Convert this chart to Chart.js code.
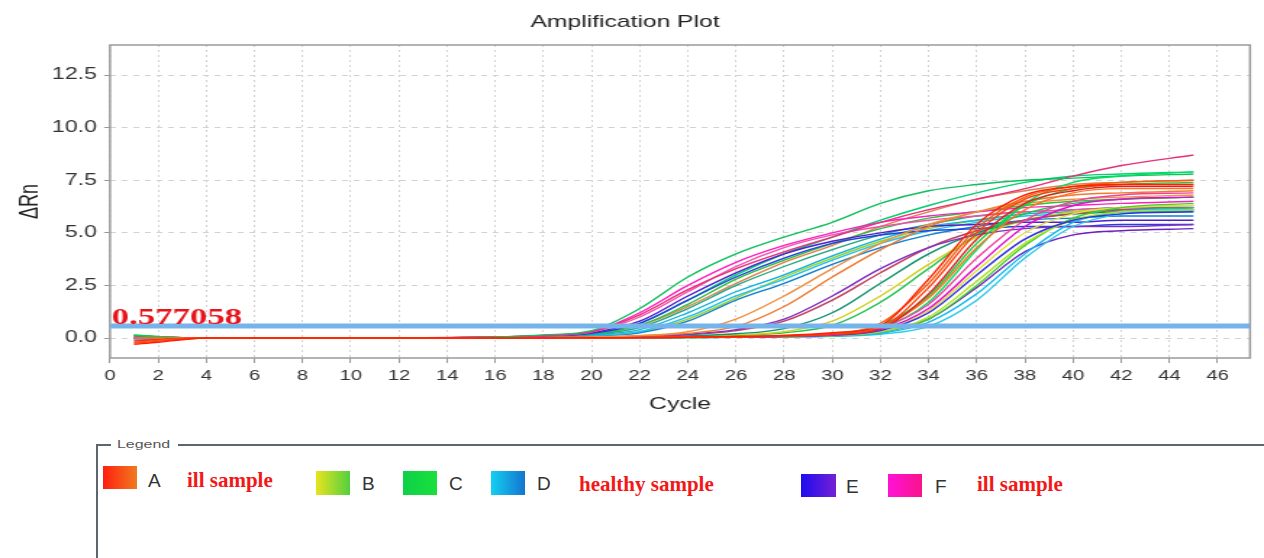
<!DOCTYPE html>
<html>
<head>
<meta charset="utf-8">
<script src="https://cdn.jsdelivr.net/npm/chart.js@4.4.0/dist/chart.umd.min.js"></script>
<style>
  html, body { margin: 0; padding: 0; background: #fff; }
  #wrap { position: relative; width: 1264px; height: 558px; overflow: hidden; font-family: "Liberation Sans", Arial, sans-serif; }
  #plot { position: absolute; left: 0; top: 0; }
  .rule { position: absolute; background: #5d666e; }
  .legend-title { position: absolute; left: 117px; top: 437px; font-size: 11px; line-height: 14px; color: #555; transform: scaleX(1.45); transform-origin: left center; }
  .sw { position: absolute; width: 34px; height: 23px; }
  .key { position: absolute; font-size: 19px; line-height: 1; color: #333; }
  .note { position: absolute; font-family: "Liberation Serif", "Times New Roman", serif; font-weight: bold; font-size: 21px; line-height: 1; color: #f21818; }
</style>
</head>
<body>
<div id="wrap">
  <canvas id="plot" width="872" height="430" style="width:1264px; height:430px;"></canvas>

  <!-- legend frame -->
  <div class="rule" style="left:96px; top:444px; width:15px; height:2px;"></div>
  <div class="rule" style="left:178px; top:444px; width:1090px; height:2px;"></div>
  <div class="rule" style="left:96px; top:444px; width:2px; height:120px;"></div>
  <div class="legend-title">Legend</div>

  <div class="sw" style="left:103px; top:466px; background:linear-gradient(90deg,#ff1e10,#f07a1e);"></div>
  <div class="key" style="left:148px; top:471px;">A</div>
  <div class="note" style="left:187px; top:470px;">ill sample</div>

  <div class="sw" style="left:316px; top:471px; height:24px; background:linear-gradient(90deg,#e8e41e,#52d040);"></div>
  <div class="key" style="left:362px; top:474px;">B</div>
  <div class="sw" style="left:403px; top:471px; height:24px; background:linear-gradient(90deg,#10d048,#18e03c);"></div>
  <div class="key" style="left:449px; top:474px;">C</div>
  <div class="sw" style="left:491px; top:471px; height:24px; background:linear-gradient(90deg,#14d0f0,#1474d0);"></div>
  <div class="key" style="left:537px; top:474px;">D</div>
  <div class="note" style="left:579px; top:474px;">healthy sample</div>

  <div class="sw" style="left:801px; top:474px; width:35px; background:linear-gradient(90deg,#1e0cf0,#7420d4);"></div>
  <div class="key" style="left:846px; top:477px;">E</div>
  <div class="sw" style="left:888px; top:474px; background:linear-gradient(90deg,#ff12d8,#f8148a);"></div>
  <div class="key" style="left:935px; top:477px;">F</div>
  <div class="note" style="left:977px; top:474px;">ill sample</div>
</div>

<script>
// the reference picture is stretched sideways, so the canvas is drawn narrow and widened by CSS
const stretch = 1264 / 872;

const cycles = [1, 2, 3, 4, 10, 16, 18, 20, 22, 24, 26, 28, 30, 32, 34, 36, 38, 40, 42, 45];
const threshold = 0.577058;

// late wells (Ct ~31-34)
const lateCurves = [
  [-0.3, -0.2, -0.08, 0, 0, 0, 0, 0.01, 0.02, 0.04, 0.07, 0.12, 0.25, 0.6, 2.8, 5.4, 6.8, 7.2, 7.3, 7.3],
  [-0.25, -0.15, -0.05, 0, 0, 0, 0, 0.01, 0.02, 0.04, 0.06, 0.1, 0.2, 0.5, 2.4, 5.0, 6.6, 7.1, 7.3, 7.3],
  [-0.2, -0.1, -0.03, 0, 0, 0, 0, 0.01, 0.02, 0.04, 0.07, 0.12, 0.22, 0.7, 2.6, 5.2, 6.7, 7.2, 7.4, 7.5],
  [-0.15, -0.08, -0.02, 0, 0, 0, 0, 0.01, 0.02, 0.03, 0.05, 0.09, 0.18, 0.45, 2.1, 4.7, 6.4, 7.0, 7.2, 7.2],
  [0, 0, 0, 0, 0, 0, 0, 0.01, 0.02, 0.03, 0.06, 0.1, 0.2, 0.55, 1.9, 4.3, 6.1, 6.9, 7.1, 7.1],
  [0, 0, 0, 0, 0, 0, 0, 0.01, 0.02, 0.03, 0.05, 0.08, 0.17, 0.5, 1.6, 3.8, 5.6, 6.5, 6.8, 6.9],
  [0.12, 0.06, 0.02, 0, 0, 0, 0, 0.01, 0.02, 0.03, 0.05, 0.1, 0.2, 0.6, 2.0, 4.5, 6.3, 7.1, 7.3, 7.4],
  [0, 0, 0, 0, 0, 0, 0, 0.01, 0.02, 0.03, 0.05, 0.08, 0.15, 0.4, 1.4, 3.4, 5.3, 6.3, 6.6, 6.7],
  [0, 0, 0, 0, 0, 0, 0, 0.01, 0.02, 0.03, 0.04, 0.07, 0.13, 0.35, 1.2, 3.0, 4.7, 5.6, 5.9, 6.0],
  [0, 0, 0, 0, 0, 0, 0, 0.01, 0.01, 0.02, 0.04, 0.06, 0.12, 0.3, 1.0, 2.7, 4.5, 5.6, 6.0, 6.1],
  [0, 0, 0, 0, 0, 0, 0, 0.01, 0.01, 0.02, 0.04, 0.06, 0.1, 0.28, 0.9, 2.5, 4.4, 5.7, 6.2, 6.4],
  [0, 0, 0, 0, 0, 0, 0, 0.01, 0.01, 0.02, 0.03, 0.05, 0.09, 0.22, 0.75, 2.1, 4.0, 5.5, 6.0, 6.2],
  [-0.05, -0.02, 0, 0, 0, 0, 0, 0, 0.01, 0.02, 0.03, 0.05, 0.08, 0.18, 0.55, 1.8, 3.8, 5.3, 5.9, 6.1],
  [0, 0, 0, 0, 0, 0, 0, 0.01, 0.01, 0.02, 0.04, 0.06, 0.1, 0.28, 0.9, 2.4, 4.1, 4.9, 5.1, 5.2],
  [0, 0, 0, 0, 0, 0, 0, 0.01, 0.02, 0.03, 0.05, 0.08, 0.15, 0.45, 1.7, 4.2, 6.4, 7.4, 7.7, 7.9],
  [0, 0, 0, 0, 0, 0, 0, 0.01, 0.02, 0.03, 0.05, 0.08, 0.15, 0.4, 1.3, 3.2, 5.0, 5.9, 6.2, 6.3]
];
const lateColors = ['#ff2000', '#ff4010', '#f06010', '#e02020', '#ff7020', '#f040a0', '#10d040', '#e010d0',
  '#3030e0', '#b0e020', '#40d030', '#10b8f0', '#30c8e8', '#7020c0', '#00e060', '#e0e040'];

// middle wells (Ct ~25-30)
const midCurves = [
  [0, 0, 0, 0, 0, 0, 0.02, 0.05, 0.12, 0.3, 0.9, 2.0, 3.3, 4.5, 5.4, 6.0, 6.4, 6.6, 6.7, 6.8],
  [0, 0, 0, 0, 0, 0, 0.02, 0.04, 0.1, 0.22, 0.55, 1.5, 2.9, 4.2, 5.3, 6.0, 6.5, 6.8, 6.9, 7.0],
  [0, 0, 0, 0, 0, 0, 0.02, 0.04, 0.08, 0.18, 0.4, 0.9, 2.0, 3.3, 4.3, 4.9, 5.2, 5.3, 5.3, 5.4],
  [0, 0, 0, 0, 0, 0, 0.02, 0.04, 0.08, 0.15, 0.35, 0.8, 1.8, 3.1, 4.3, 5.1, 5.6, 5.9, 6.1, 6.2],
  [0, 0, 0, 0, 0, 0, 0.01, 0.03, 0.06, 0.1, 0.2, 0.45, 1.2, 2.6, 4.0, 5.0, 5.6, 5.9, 6.0, 6.1],
  [0, 0, 0, 0, 0, 0, 0.01, 0.03, 0.05, 0.08, 0.15, 0.3, 0.8, 2.0, 3.5, 4.8, 5.6, 6.0, 6.2, 6.3],
  [0, 0, 0, 0, 0, 0, 0, 0.02, 0.04, 0.07, 0.12, 0.25, 0.6, 1.7, 3.3, 4.9, 5.9, 6.4, 6.6, 6.7]
];
const midColors = ['#f09040', '#f07830', '#8030c0', '#c04060', '#109070', '#d0d020', '#20c050'];

// early wells (Ct ~20-24)
const earlyCurves = [
  [0.15, 0.08, 0.02, 0, 0, 0.05, 0.15, 0.35, 1.4, 2.9, 4.0, 4.8, 5.5, 6.4, 7.0, 7.3, 7.5, 7.6, 7.7, 7.8],
  [-0.1, -0.05, 0, 0, 0, 0.05, 0.12, 0.3, 1.1, 2.3, 3.3, 4.1, 4.8, 5.5, 6.1, 6.6, 7.1, 7.7, 8.2, 8.7],
  [0.05, 0.02, 0, 0, 0, 0.05, 0.12, 0.3, 1.2, 2.5, 3.6, 4.4, 5.0, 5.5, 5.8, 6.0, 6.2, 6.3, 6.4, 6.5],
  [0, 0, 0, 0, 0, 0.05, 0.1, 0.28, 1.0, 2.2, 3.4, 4.3, 4.9, 5.3, 5.6, 5.8, 6.0, 6.1, 6.2, 6.3],
  [0.1, 0.05, 0.02, 0, 0, 0.04, 0.1, 0.25, 0.8, 2.0, 3.1, 4.0, 4.6, 5.0, 5.3, 5.4, 5.5, 5.5, 5.6, 5.6],
  [0, 0, 0, 0, 0, 0.04, 0.1, 0.22, 0.7, 1.8, 2.9, 3.8, 4.5, 4.9, 5.1, 5.2, 5.3, 5.3, 5.4, 5.4],
  [0.12, 0.06, 0.02, 0, 0, 0.04, 0.1, 0.2, 0.6, 1.6, 2.8, 3.7, 4.5, 5.2, 5.7, 6.0, 6.3, 6.5, 6.6, 6.7],
  [0, 0, 0, 0, 0, 0.03, 0.08, 0.18, 0.5, 1.4, 2.5, 3.4, 4.2, 4.9, 5.4, 5.8, 6.0, 6.1, 6.2, 6.2],
  [-0.05, 0, 0, 0, 0, 0.03, 0.07, 0.15, 0.4, 1.2, 2.2, 3.0, 3.9, 4.7, 5.3, 5.6, 5.9, 6.0, 6.1, 6.1],
  [0, 0, 0, 0, 0, 0.02, 0.06, 0.12, 0.3, 1.0, 2.0, 2.8, 3.7, 4.5, 5.1, 5.5, 5.8, 5.9, 6.0, 6.0],
  [0, 0, 0, 0, 0, 0.02, 0.05, 0.1, 0.25, 0.8, 1.8, 2.6, 3.5, 4.3, 4.9, 5.3, 5.6, 5.7, 5.8, 5.8],
  [0, 0, 0, 0, 0, 0.02, 0.05, 0.1, 0.3, 0.9, 1.9, 2.9, 3.8, 4.6, 5.2, 5.6, 5.9, 6.0, 6.1, 6.2],
  [0, 0, 0, 0, 0, 0.03, 0.08, 0.2, 0.6, 1.5, 2.6, 3.6, 4.4, 5.3, 6.0, 6.6, 7.0, 7.3, 7.4, 7.5],
  [0.1, 0.05, 0.01, 0, 0, 0.03, 0.08, 0.2, 0.7, 1.8, 3.0, 4.0, 4.8, 5.6, 6.3, 6.9, 7.4, 7.7, 7.8, 7.9]
];
const earlyColors = ['#10c060', '#e8307a', '#ff20c0', '#f050b0', '#5020d0', '#2040e0', '#30c040',
  '#20a880', '#10b0e0', '#20c0f0', '#1080d0', '#a0d020', '#e08050', '#00d070'];

const xMax = 47.35;
const fontFamily = '"Liberation Sans", Arial, sans-serif';

const datasets = [{
  label: 'Threshold',
  data: [{ x: 0, y: threshold }, { x: xMax, y: threshold }],
  borderColor: '#74b4ea',
  borderWidth: 5,
  pointRadius: 0,
  order: -1
}];

[[lateCurves, lateColors], [midCurves, midColors], [earlyCurves, earlyColors]].forEach(([curves, colors]) => {
  curves.forEach((vals, i) => {
    datasets.push({
      label: 'well',
      data: vals.map((v, j) => ({ x: cycles[j], y: v })),
      borderColor: colors[i],
      borderWidth: 1.4,
      pointRadius: 0,
      cubicInterpolationMode: 'monotone'
    });
  });
});

// frame round the plot and the threshold value
const extras = {
  id: 'extras',
  beforeDatasetsDraw(chart) {
    const { ctx, chartArea: a } = chart;
    ctx.save();
    ctx.strokeStyle = '#9a9a9a';
    ctx.lineWidth = 1.5;
    ctx.strokeRect(a.left, a.top, a.right - a.left, a.bottom - a.top);
    ctx.restore();
  },
  afterDatasetsDraw(chart) {
    const { ctx, chartArea: a, scales } = chart;
    const y = scales.y.getPixelForValue(threshold);
    ctx.save();
    ctx.font = 'bold 24px "Liberation Serif", "Times New Roman", serif';
    ctx.fillStyle = '#e8141c';
    ctx.textBaseline = 'alphabetic';
    ctx.fillText(String(threshold), a.left + 1, y - 2);
    ctx.restore();
  }
};

new Chart(document.getElementById('plot'), {
  type: 'line',
  data: { datasets },
  options: {
    responsive: false,
    animation: false,
    layout: { padding: { left: 0, right: 872 - 1250 / stretch, top: 0, bottom: 0 } },
    plugins: {
      legend: { display: false },
      tooltip: { enabled: false },
      title: {
        display: true,
        text: 'Amplification Plot',
        color: '#222',
        font: { family: fontFamily, size: 17, weight: 'normal' },
        padding: { top: 12, bottom: 12.6 }
      }
    },
    scales: {
      x: {
        type: 'linear',
        min: 0,
        max: xMax,
        afterFit(sc) { sc.height = 72; },
        ticks: { stepSize: 2, includeBounds: false, color: '#333', font: { family: fontFamily, size: 14 }, padding: 5, maxRotation: 0, autoSkip: false },
        grid: { color: '#d2d2d2', lineWidth: 1, tickLength: 5, tickColor: '#999', tickWidth: 1 },
        border: { display: false, dash: [2, 3] },
        title: { display: true, text: 'Cycle', color: '#222', font: { family: fontFamily, size: 17 }, padding: { top: 0, bottom: 15 } }
      },
      y: {
        min: -0.95,
        max: 13.93,
        afterFit(sc) { sc.width = 110 / stretch; },
        ticks: { stepSize: 2.5, includeBounds: false, color: '#333', font: { family: fontFamily, size: 16 }, padding: 5, callback: v => v.toFixed(1) },
        grid: { color: '#d2d2d2', lineWidth: 1, tickLength: 4, tickColor: '#999', tickWidth: 1 },
        border: { display: false, dash: [4, 4] },
        title: { display: true, text: 'ΔRn', color: '#222', font: { family: fontFamily, size: 18 }, padding: { top: 10, bottom: 0 } }
      }
    }
  },
  plugins: [extras]
});
</script>
</body>
</html>
